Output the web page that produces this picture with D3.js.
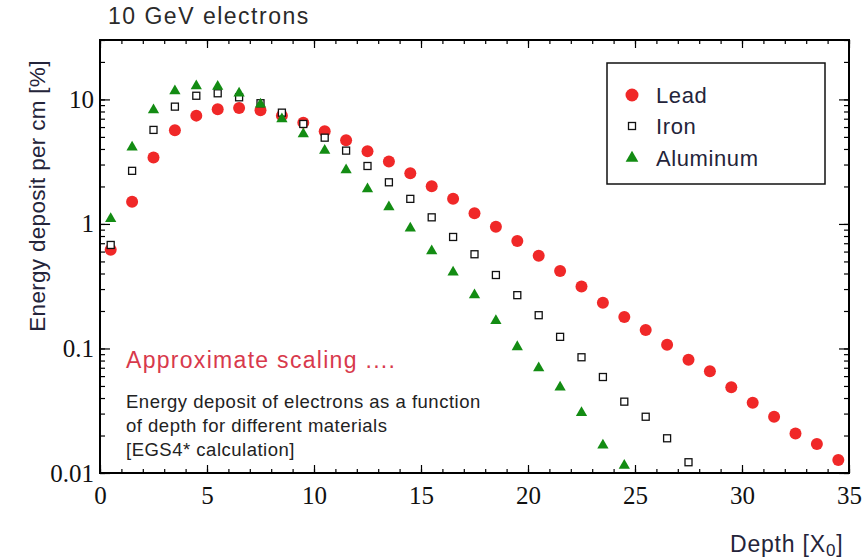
<!DOCTYPE html>
<html><head><meta charset="utf-8">
<script src="https://cdn.jsdelivr.net/npm/d3@7"></script>
<style>
html,body{margin:0;padding:0;background:#fff;}
svg{display:block;}
</style></head>
<body>
<svg id="chart" width="865" height="560"></svg>
<script>
// ---- data ----
const depthLead = [0.5,1.5,2.5,3.5,4.5,5.5,6.5,7.5,8.5,9.5,10.5,11.5,12.5,13.5,14.5,15.5,16.5,17.5,18.5,19.5,20.5,21.5,22.5,23.5,24.5,25.5,26.5,27.5,28.5,29.5,30.5,31.5,32.5,33.5,34.5];
const lead = [0.62,1.51,3.41,5.66,7.41,8.34,8.55,8.19,7.41,6.51,5.55,4.70,3.84,3.17,2.55,2.01,1.59,1.22,0.951,0.730,0.556,0.419,0.314,0.233,0.179,0.141,0.107,0.0813,0.0656,0.0488,0.0367,0.0283,0.0208,0.0171,0.0127];
const depthIron = [0.5,1.5,2.5,3.5,4.5,5.5,6.5,7.5,8.5,9.5,10.5,11.5,12.5,13.5,14.5,15.5,16.5,17.5,18.5,19.5,20.5,21.5,22.5,23.5,24.5,25.5,26.5,27.5];
const iron = [0.678,2.67,5.69,8.75,10.7,11.2,10.4,9.32,7.83,6.35,4.93,3.88,2.92,2.16,1.59,1.13,0.786,0.571,0.389,0.268,0.185,0.124,0.085,0.059,0.0374,0.0283,0.019,0.0122];
const depthAl = [0.5,1.5,2.5,3.5,4.5,5.5,6.5,7.5,8.5,9.5,10.5,11.5,12.5,13.5,14.5,15.5,16.5,17.5,18.5,19.5,20.5,21.5,22.5,23.5,24.5];
const aluminum = [1.10,4.13,8.24,11.7,12.8,12.7,11.2,9.15,6.97,5.28,3.88,2.71,1.91,1.37,0.923,0.607,0.409,0.269,0.167,0.103,0.0697,0.0488,0.0305,0.0167,0.0115];
const xTicks = [0,5,10,15,20,25,30,35];
const yTicks = [0.01,0.1,1,10];
const yTickLabels = ["0.01","0.1","1","10"];
const legendLabels = ["Lead","Iron","Aluminum"];

// ---- layout ----
const svg = d3.select("#chart");
const L = 100, R = 849, T = 40, B = 473;
const x = d3.scaleLinear().domain([0,35]).range([L,R]);
const y = d3.scaleLog().domain([0.01,30]).range([B,T]);
const RED = "#f02828", GREEN = "#138c13";
const TXT = "#24243a";

// minor ticks
const xMinor = d3.range(0,36,1);
const yMinor = [];
[0.01,0.1,1,10].forEach(d=>{for(let k=1;k<10;k++){const v=d*k; if(v<=30.0001) yMinor.push(v);}});

function styleAxis(g){
  g.select(".domain").remove();
  g.selectAll("line").attr("stroke","#000").attr("stroke-width",1.2);
}
// bottom
svg.append("g").attr("transform",`translate(0,${B})`)
  .call(d3.axisBottom(x).tickValues(xMinor).tickSizeInner(-4).tickSizeOuter(0).tickFormat(""))
  .call(styleAxis);
const xb = svg.append("g").attr("transform",`translate(0,${B})`)
  .call(d3.axisBottom(x).tickValues(xTicks).tickSizeInner(-8).tickSizeOuter(0).tickPadding(13).tickFormat(d3.format("d")))
  .call(styleAxis);
xb.selectAll("text").attr("font-family","'Liberation Serif','Times New Roman',serif").attr("font-size",25).attr("fill","#111");
// top
svg.append("g").attr("transform",`translate(0,${T})`)
  .call(d3.axisTop(x).tickValues(xMinor).tickSizeInner(-4).tickSizeOuter(0).tickFormat(""))
  .call(styleAxis);
svg.append("g").attr("transform",`translate(0,${T})`)
  .call(d3.axisTop(x).tickValues(xTicks).tickSizeInner(-8).tickSizeOuter(0).tickFormat(""))
  .call(styleAxis);
// left
svg.append("g").attr("transform",`translate(${L},0)`)
  .call(d3.axisLeft(y).tickValues(yMinor).tickSizeInner(-5).tickSizeOuter(0).tickFormat(""))
  .call(styleAxis);
const yl = svg.append("g").attr("transform",`translate(${L},0)`)
  .call(d3.axisLeft(y).tickValues(yTicks).tickSizeInner(-10).tickSizeOuter(0).tickPadding(6).tickFormat((d,i)=>yTickLabels[i]))
  .call(styleAxis);
yl.selectAll("text").attr("font-family","'Liberation Serif','Times New Roman',serif").attr("font-size",25).attr("fill","#111");
// right
svg.append("g").attr("transform",`translate(${R},0)`)
  .call(d3.axisRight(y).tickValues(yMinor).tickSizeInner(-5).tickSizeOuter(0).tickFormat(""))
  .call(styleAxis);
svg.append("g").attr("transform",`translate(${R},0)`)
  .call(d3.axisRight(y).tickValues(yTicks).tickSizeInner(-10).tickSizeOuter(0).tickFormat(""))
  .call(styleAxis);
// frame
svg.append("rect").attr("x",L).attr("y",T).attr("width",R-L).attr("height",B-T)
  .attr("fill","none").attr("stroke","#000").attr("stroke-width",2);

// ---- annotations ----
const sans = "'Liberation Sans',Arial,Helvetica,sans-serif";
svg.append("text").attr("x",108).attr("y",24).attr("font-family",sans).attr("font-size",23).attr("letter-spacing",1.5).attr("fill","#2a2a2a").text("10 GeV electrons");
svg.append("text").attr("transform","translate(45,196) rotate(-90)").attr("text-anchor","middle")
  .attr("font-family",sans).attr("font-size",22.5).attr("letter-spacing",0.3).attr("fill",TXT).text("Energy deposit per cm [%]");
const xt = svg.append("text").attr("x",730).attr("y",552).attr("font-family",sans).attr("font-size",23).attr("letter-spacing",0.8).attr("fill",TXT);
xt.append("tspan").text("Depth [X");
xt.append("tspan").attr("font-size",17).attr("dy",4).text("0");
xt.append("tspan").attr("dy",-4).text("]");

svg.append("text").attr("x",126).attr("y",368).attr("font-family",sans).attr("font-size",23).attr("letter-spacing",1.3).attr("fill","#d8394c").text("Approximate scaling ....");
["Energy deposit of electrons as a function","of depth for different materials","[EGS4* calculation]"].forEach((s,i)=>{
  svg.append("text").attr("x",126).attr("y",408+i*24).attr("font-family",sans).attr("font-size",18.5).attr("letter-spacing",0.5).attr("fill","#222").text(s);
});

// ---- data marks ----
const plot = svg.append("g");
plot.selectAll("circle.lead").data(lead).enter().append("circle")
  .attr("cx",(d,i)=>x(depthLead[i])).attr("cy",d=>y(d)).attr("r",6).attr("fill",RED);
const sq = 7;
plot.selectAll("rect.iron").data(iron).enter().append("rect")
  .attr("x",(d,i)=>x(depthIron[i])-sq/2).attr("y",d=>y(d)-sq/2).attr("width",sq).attr("height",sq)
  .attr("fill","#fff").attr("stroke","#111").attr("stroke-width",1.3);
const tri = d3.symbol().type(d3.symbolTriangle).size(55);
plot.selectAll("path.al").data(aluminum).enter().append("path")
  .attr("d",tri).attr("transform",(d,i)=>`translate(${x(depthAl[i])},${y(d)})`).attr("fill",GREEN);

// ---- legend ----
const lg = svg.append("g");
lg.append("rect").attr("x",607).attr("y",63).attr("width",218).attr("height",121).attr("fill","#fff").attr("stroke","#111").attr("stroke-width",1.5);
const ly = [95,126,158];
lg.append("circle").attr("cx",632).attr("cy",ly[0]).attr("r",6.5).attr("fill",RED);
lg.append("rect").attr("x",632-sq/2).attr("y",ly[1]-sq/2).attr("width",sq).attr("height",sq).attr("fill","#fff").attr("stroke","#111").attr("stroke-width",1.3);
lg.append("path").attr("d",d3.symbol().type(d3.symbolTriangle).size(70)).attr("transform",`translate(632,${ly[2]})`).attr("fill",GREEN);
legendLabels.forEach((s,i)=>{
  lg.append("text").attr("x",656).attr("y",ly[i]+8).attr("font-family",sans).attr("font-size",22).attr("letter-spacing",0.6).attr("fill",TXT).text(s);
});
</script>
</body></html>
